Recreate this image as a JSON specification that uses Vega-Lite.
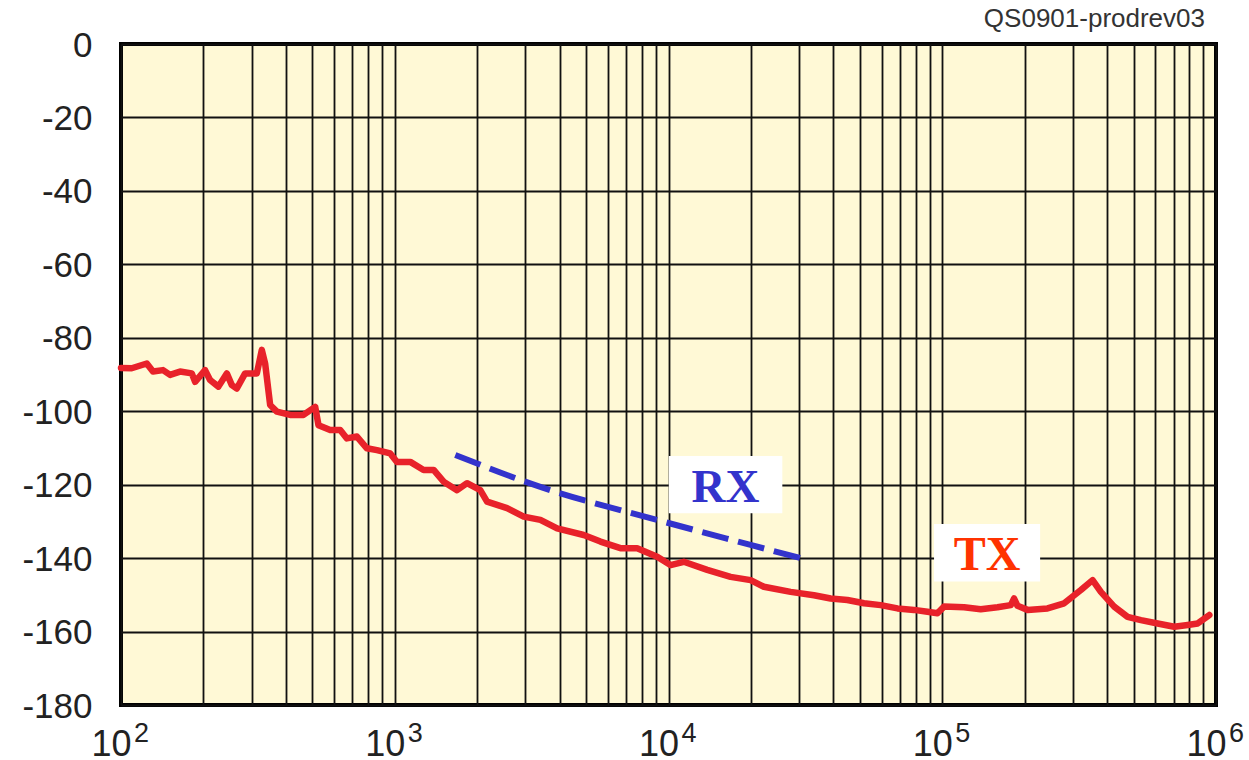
{
  "$schema": "https://vega.github.io/schema/vega-lite/v6.json",
  "autosize": {"type": "none"},
  "padding": {"left": 121, "top": 44, "right": 33, "bottom": 55},
  "width": 1095,
  "height": 661,
  "background": "white",
  "config": {
    "view": {"stroke": "#000000", "strokeWidth": 4, "fill": "#FFF9D6"},
    "axis": {"gridColor": "#111111", "gridWidth": 1.8, "gridOpacity": 1, "ticks": false, "tickSize": 0, "domain": false, "title": null}
  },
  "datasets": {
    "tx": [
      {"f": 100, "db": -88.2}, {"f": 109.4, "db": -88.3}, {"f": 124.2, "db": -87.0}, {"f": 130.9, "db": -89.2},
      {"f": 142.4, "db": -88.8}, {"f": 151.1, "db": -90.1}, {"f": 164.3, "db": -89.2}, {"f": 181.4, "db": -89.7},
      {"f": 186.5, "db": -92.0}, {"f": 202.8, "db": -88.8}, {"f": 211.5, "db": -91.5}, {"f": 226.9, "db": -93.3},
      {"f": 243.5, "db": -89.7}, {"f": 254, "db": -92.9}, {"f": 264.9, "db": -93.8}, {"f": 284, "db": -89.7},
      {"f": 313.5, "db": -89.7}, {"f": 326.9, "db": -83.3}, {"f": 336.1, "db": -87.0}, {"f": 350.6, "db": -98.3},
      {"f": 370.9, "db": -100.1}, {"f": 414.9, "db": -101.0}, {"f": 464, "db": -101.0}, {"f": 512.1, "db": -98.8},
      {"f": 526.5, "db": -103.8}, {"f": 581, "db": -105.1}, {"f": 632, "db": -105.1}, {"f": 668.7, "db": -107.4},
      {"f": 727.4, "db": -106.9}, {"f": 791.3, "db": -110.1}, {"f": 860.8, "db": -110.6}, {"f": 962.7, "db": -111.5},
      {"f": 1018.6, "db": -113.8}, {"f": 1139.5, "db": -113.8}, {"f": 1274.5, "db": -116.0}, {"f": 1386.8, "db": -116.0},
      {"f": 1508.3, "db": -119.2}, {"f": 1688.6, "db": -121.5}, {"f": 1836.5, "db": -119.6}, {"f": 2053.4, "db": -121.5},
      {"f": 2173.4, "db": -124.6}, {"f": 2571.4, "db": -126.4}, {"f": 2957.8, "db": -128.7}, {"f": 3404, "db": -129.6},
      {"f": 3918, "db": -131.9}, {"f": 4901, "db": -133.7}, {"f": 5641, "db": -135.5}, {"f": 6674, "db": -137.3},
      {"f": 7682, "db": -137.3}, {"f": 9091, "db": -139.6}, {"f": 10169, "db": -141.9}, {"f": 11374, "db": -141.0},
      {"f": 13852, "db": -143.2}, {"f": 16855, "db": -145.1}, {"f": 19945, "db": -146.0}, {"f": 22305, "db": -147.8},
      {"f": 27929, "db": -149.2}, {"f": 33983, "db": -150.1}, {"f": 39118, "db": -151.0}, {"f": 45027, "db": -151.4},
      {"f": 51784, "db": -152.3}, {"f": 59600, "db": -152.8}, {"f": 68600, "db": -153.7}, {"f": 78880, "db": -154.1},
      {"f": 88300, "db": -154.6}, {"f": 96030, "db": -155.0}, {"f": 101500, "db": -153.2}, {"f": 120150, "db": -153.4},
      {"f": 138200, "db": -153.9}, {"f": 159150, "db": -153.4}, {"f": 178000, "db": -152.8}, {"f": 183000, "db": -151.0},
      {"f": 188300, "db": -153.0}, {"f": 204900, "db": -154.1}, {"f": 242400, "db": -153.7}, {"f": 278800, "db": -152.3},
      {"f": 320900, "db": -148.7}, {"f": 354100, "db": -146.0}, {"f": 379700, "db": -149.2}, {"f": 424700, "db": -153.2},
      {"f": 475400, "db": -156.0}, {"f": 531800, "db": -156.9}, {"f": 612100, "db": -157.8}, {"f": 703900, "db": -158.7},
      {"f": 788000, "db": -158.2}, {"f": 857400, "db": -157.8}, {"f": 945200, "db": -155.5}
    ],
    "rx": [
      {"f": 1664, "db": -111.9}, {"f": 3404, "db": -120.6}, {"f": 9091, "db": -129.6}, {"f": 19945, "db": -136.4}, {"f": 32150, "db": -140.5}
    ],
    "boxes": [
      {"label": "RX", "f1": 10025, "f2": 26050, "d1": -112.2, "d2": -127.8},
      {"label": "TX", "f1": 93330, "f2": 227800, "d1": -130.7, "d2": -146.4}
    ],
    "exps": [
      {"f": 100, "db": -180, "e": "2"}, {"f": 1000, "db": -180, "e": "3"}, {"f": 10000, "db": -180, "e": "4"},
      {"f": 100000, "db": -180, "e": "5"}, {"f": 1000000, "db": -180, "e": "6"}
    ]
  },
  "layer": [
    {
      "data": {"name": "boxes"},
      "mark": {"type": "rect", "fill": "white"},
      "encoding": {
        "x": {
          "field": "f1",
          "type": "quantitative",
          "scale": {"type": "log", "domain": [100, 1000000], "nice": false},
          "axis": {
            "values": [100,200,300,400,500,600,700,800,900,1000,2000,3000,4000,5000,6000,7000,8000,9000,10000,20000,30000,40000,50000,60000,70000,80000,90000,100000,200000,300000,400000,500000,600000,700000,800000,900000,1000000],
            "grid": true,
            "labelExpr": "indexof([100,1000,10000,100000,1000000], datum.value) >= 0 ? '10' : ''",
            "labelFont": "Liberation Sans",
            "labelFontSize": 36,
            "labelColor": "#222222",
            "labelBaseline": "alphabetic",
            "labelPadding": 50,
            "labelOffset": -10,
            "labelOverlap": false,
            "labelFlush": false,
            "labelBound": false
          }
        },
        "x2": {"field": "f2"},
        "y": {
          "field": "d1",
          "type": "quantitative",
          "scale": {"domain": [-180, 0], "nice": false},
          "axis": {
            "values": [-180,-160,-140,-120,-100,-80,-60,-40,-20,0],
            "grid": true,
            "labelExpr": "'' + datum.value",
            "labelFont": "Liberation Sans",
            "labelFontSize": 35,
            "labelColor": "#222222",
            "labelPadding": 29,
            "labelOffset": 1,
            "labelOverlap": false
          }
        },
        "y2": {"field": "d2"}
      }
    },
    {
      "data": {"name": "tx"},
      "mark": {"type": "line", "color": "#E8222A", "strokeWidth": 6.5, "strokeJoin": "round", "strokeCap": "round"},
      "encoding": {
        "x": {"field": "f", "type": "quantitative"},
        "y": {"field": "db", "type": "quantitative"}
      }
    },
    {
      "data": {"name": "rx"},
      "mark": {"type": "line", "color": "#3333CC", "strokeWidth": 6, "strokeDash": [27, 10], "interpolate": "monotone"},
      "encoding": {
        "x": {"field": "f", "type": "quantitative"},
        "y": {"field": "db", "type": "quantitative"}
      }
    },
    {
      "data": {"values": [{"label": "RX", "f": 16160, "db": -124.6}]},
      "mark": {"type": "text", "font": "Liberation Serif", "fontWeight": "bold", "fontSize": 47, "color": "#3333CC", "align": "center", "baseline": "alphabetic"},
      "encoding": {
        "x": {"field": "f", "type": "quantitative"},
        "y": {"field": "db", "type": "quantitative"},
        "text": {"field": "label"}
      }
    },
    {
      "data": {"values": [{"label": "TX", "f": 145800, "db": -143.2}]},
      "mark": {"type": "text", "font": "Liberation Serif", "fontWeight": "bold", "fontSize": 48, "color": "#FF3300", "align": "center", "baseline": "alphabetic"},
      "encoding": {
        "x": {"field": "f", "type": "quantitative"},
        "y": {"field": "db", "type": "quantitative"},
        "text": {"field": "label"}
      }
    },
    {
      "data": {"name": "exps"},
      "mark": {"type": "text", "font": "Liberation Sans", "fontSize": 27, "color": "#222222", "align": "left", "baseline": "alphabetic", "dx": 13, "dy": 37},
      "encoding": {
        "x": {"field": "f", "type": "quantitative"},
        "y": {"field": "db", "type": "quantitative"},
        "text": {"field": "e"}
      }
    },
    {
      "data": {"values": [{"label": "QS0901-prodrev03", "f": 1000000, "db": 0}]},
      "mark": {"type": "text", "font": "Liberation Sans", "fontSize": 26, "color": "#333333", "align": "right", "baseline": "alphabetic", "dx": -11, "dy": -17},
      "encoding": {
        "x": {"field": "f", "type": "quantitative"},
        "y": {"field": "db", "type": "quantitative"},
        "text": {"field": "label"}
      }
    }
  ]
}
